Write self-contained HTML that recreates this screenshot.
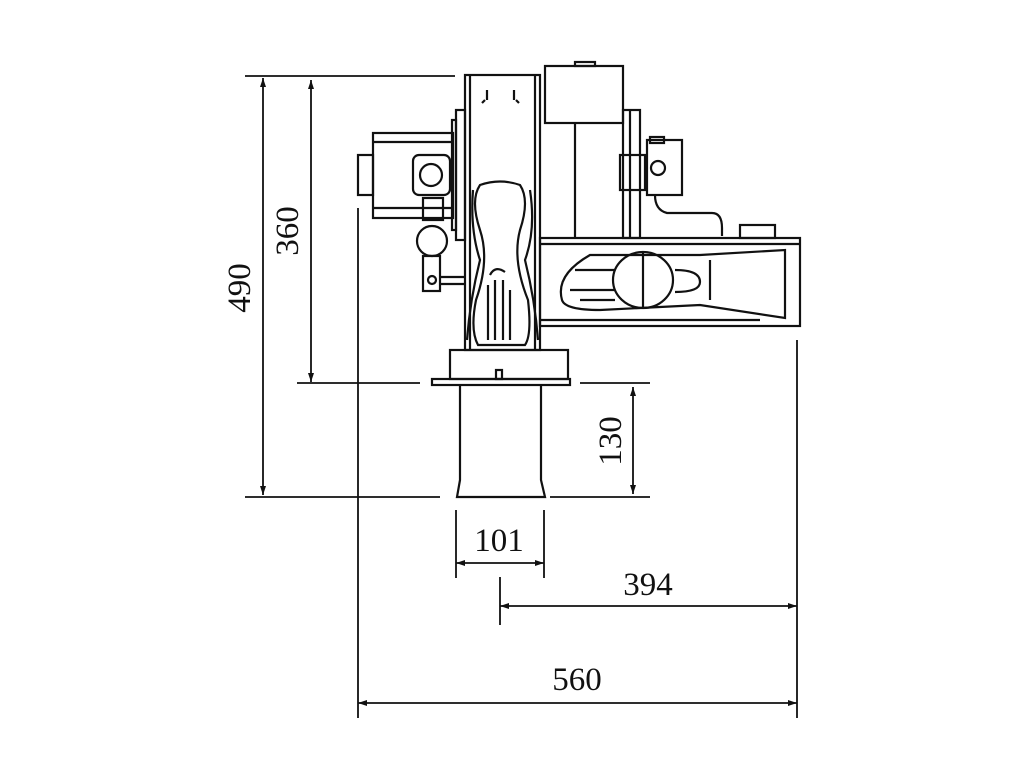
<!DOCTYPE html>
<html><head><meta charset="utf-8"><style>
html,body{margin:0;padding:0;background:#fff;width:1024px;height:768px;overflow:hidden}
text{font-family:"Liberation Serif",serif;font-size:33px;fill:#111}
</style></head><body>
<svg width="1024" height="768" viewBox="0 0 1024 768" xmlns="http://www.w3.org/2000/svg">
<g stroke="#111" stroke-width="1.8" fill="none">
<line x1="245" y1="76" x2="455" y2="76"/>
<line x1="263" y1="78" x2="263" y2="495"/>
<line x1="311" y1="80" x2="311" y2="382"/>
<line x1="297" y1="383" x2="420" y2="383"/>
<line x1="580" y1="383" x2="650" y2="383"/>
<line x1="245" y1="497" x2="440" y2="497"/>
<line x1="550" y1="497" x2="650" y2="497"/>
<line x1="633" y1="387" x2="633" y2="494"/>
<line x1="456" y1="510" x2="456" y2="578"/>
<line x1="544" y1="510" x2="544" y2="578"/>
<line x1="456" y1="563" x2="544" y2="563"/>
<line x1="500" y1="577" x2="500" y2="625"/>
<line x1="797" y1="340" x2="797" y2="718"/>
<line x1="500" y1="606" x2="797" y2="606"/>
<line x1="358" y1="208" x2="358" y2="718"/>
<line x1="358" y1="703" x2="797" y2="703"/>
</g>
<g fill="#111">
<path d="M263 78 l-3 9 h6z M263 495 l-3 -9 h6z M311 80 l-3 9 h6z M311 382 l-3 -9 h6z M633 387 l-3 9 h6z M633 494 l-3 -9 h6z M456 563 l9 -3 v6z M544 563 l-9 -3 v6z M500 606 l9 -3 v6z M797 606 l-9 -3 v6z M358 703 l9 -3 v6z M797 703 l-9 -3 v6z"/>
</g>
<text x="0" y="0" transform="translate(250,288) rotate(-90)" text-anchor="middle">490</text>
<text x="0" y="0" transform="translate(298,231) rotate(-90)" text-anchor="middle">360</text>
<text x="0" y="0" transform="translate(621,441) rotate(-90)" text-anchor="middle">130</text>
<text x="499" y="551" text-anchor="middle">101</text>
<text x="648" y="595" text-anchor="middle">394</text>
<text x="577" y="690" text-anchor="middle">560</text>
<g stroke="#111" stroke-width="2.2" fill="none">
<path d="M460 385 L460 480 L457 497 L545 497 L541 480 L541 385"/>
<rect x="432" y="379" width="138" height="6"/>
<rect x="450" y="350" width="118" height="29"/>
<rect x="496" y="370" width="6" height="9"/>
<rect x="465" y="75" width="75" height="275"/>
<line x1="470" y1="75" x2="470" y2="350"/>
<line x1="535" y1="75" x2="535" y2="350"/>
<path d="M487 100 v-10 M514 100 v-10 M485 100 l-3 3 M516 100 l3 3"/>
<rect x="456" y="110" width="9" height="130"/>
<rect x="452" y="120" width="4" height="110"/>
<path d="M480 185 Q500 178 520 185 Q530 200 520 230 Q512 260 528 300 Q532 335 525 345 L478 345 Q470 330 476 300 Q490 260 480 230 Q470 200 480 185Z"/>
<path d="M473 190 Q470 230 480 260 Q470 300 467 340 M530 190 Q536 230 525 260 Q535 300 538 340"/>
<path d="M490 275 q5 -10 15 -3 M488 285 v55 M495 280 v60 M503 280 v60 M510 290 v50"/>
<rect x="373" y="133" width="80" height="85"/>
<line x1="373" y1="142" x2="453" y2="142"/>
<line x1="373" y1="208" x2="453" y2="208"/>
<rect x="358" y="155" width="15" height="40"/>
<rect x="413" y="155" width="37" height="40" rx="6"/>
<circle cx="431" cy="175" r="11"/>
<rect x="423" y="198" width="20" height="22"/>
<circle cx="432" cy="241" r="15"/>
<rect x="423" y="256" width="17" height="35"/>
<circle cx="432" cy="280" r="4"/>
<line x1="440" y1="277" x2="465" y2="277"/>
<line x1="440" y1="284" x2="465" y2="284"/>
<rect x="545" y="66" width="78" height="57"/>
<rect x="575" y="62" width="20" height="4"/>
<line x1="575" y1="123" x2="575" y2="238"/>
<rect x="623" y="110" width="17" height="128"/>
<line x1="630" y1="110" x2="630" y2="238"/>
<rect x="620" y="155" width="25" height="35"/>
<rect x="647" y="140" width="35" height="55"/>
<circle cx="658" cy="168" r="7"/>
<rect x="650" y="137" width="14" height="6"/>
<path d="M655 195 q0 15 12 18 h45 q10 0 10 15 v8"/>
<rect x="540" y="238" width="260" height="88"/>
<line x1="540" y1="244" x2="800" y2="244"/>
<line x1="540" y1="320" x2="760" y2="320"/>
<rect x="740" y="225" width="35" height="13"/>
<path d="M562 300 Q555 275 590 255 L700 255 L785 250 L785 318 L700 305 L600 310 Q565 310 562 300Z"/>
<line x1="710" y1="260" x2="710" y2="300"/>
<ellipse cx="643" cy="280" rx="30" ry="28"/>
<line x1="643" y1="253" x2="643" y2="307"/>
<path d="M575 270 h40 M570 290 h45 M580 300 h35"/>
<path d="M675 270 q25 0 25 12 q0 10 -25 10"/>
</g>
</svg>
</body></html>
